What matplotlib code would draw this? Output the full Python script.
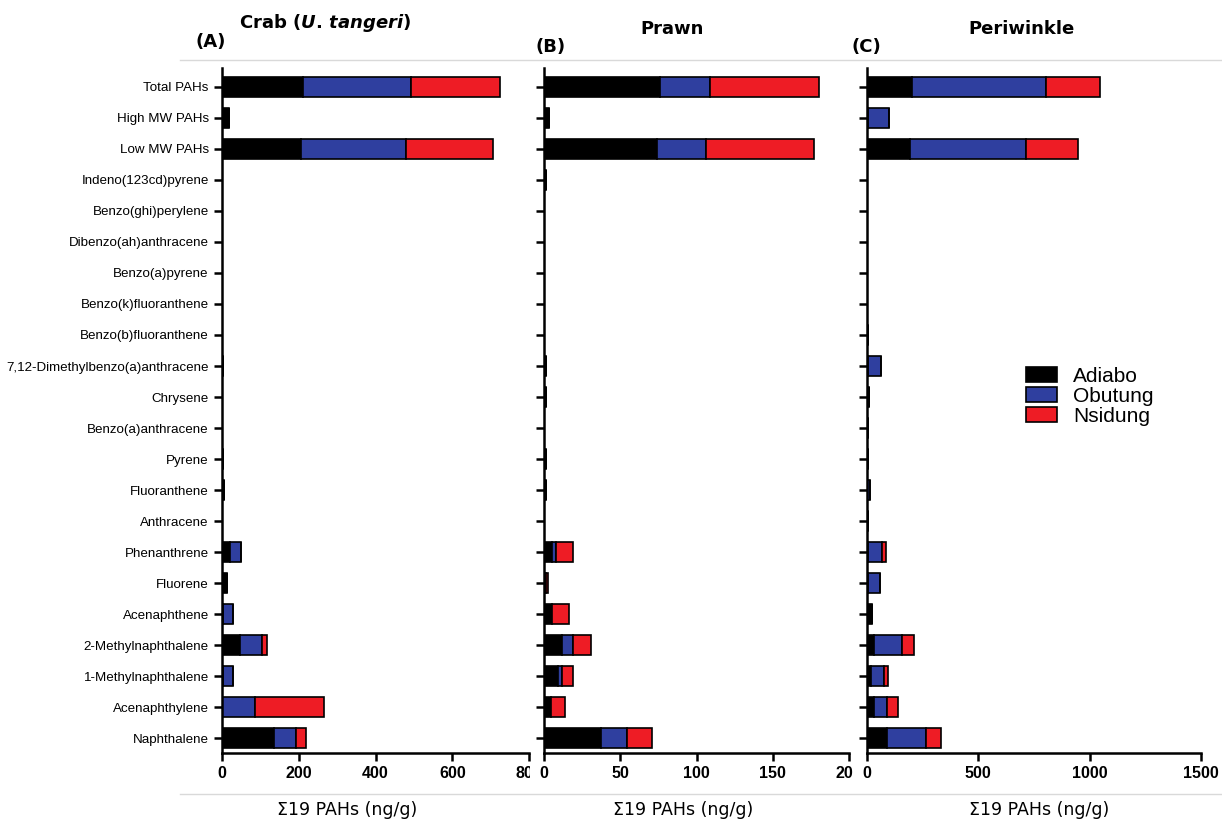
import matplotlib
matplotlib.use("Agg")
import matplotlib.pyplot as plt
from matplotlib.patches import Patch
from matplotlib.lines import Line2D
from matplotlib.transforms import Bbox, TransformedBbox

plt.rcParams["mathtext.fontset"] = "custom"
plt.rcParams["mathtext.it"] = "DejaVu Sans:bold:italic"
plt.rcParams["mathtext.rm"] = "DejaVu Sans:bold"

compounds = [
    "Total PAHs", "High MW PAHs", "Low MW PAHs", "Indeno(123cd)pyrene",
    "Benzo(ghi)perylene", "Dibenzo(ah)anthracene", "Benzo(a)pyrene",
    "Benzo(k)fluoranthene", "Benzo(b)fluoranthene",
    "7,12-Dimethylbenzo(a)anthracene", "Chrysene", "Benzo(a)anthracene",
    "Pyrene", "Fluoranthene", "Anthracene", "Phenanthrene", "Fluorene",
    "Acenaphthene", "2-Methylnaphthalene", "1-Methylnaphthalene",
    "Acenaphthylene", "Naphthalene",
]
sites = ["Adiabo", "Obutung", "Nsidung"]
site_colors = ["#000000", "#2f3f9f", "#ee1c25"]

# concentrations (ng/g), one list per site, same order as compounds
crab_adiabo = [210, 18, 205, 0.5, 0.5, 0.5, 0.5, 0.5, 0.5, 3, 1, 0.5, 3, 5, 1, 20, 13, 2, 47, 2, 0, 135]
crab_obutung = [283, 0, 275, 0, 0, 0, 0, 0, 0, 0, 0, 0, 0, 0, 0, 29, 0, 26, 56, 26, 86, 57]
crab_nsidung = [231, 0, 226, 0, 0, 0, 0, 0, 0, 0, 0, 0, 0, 0, 0, 0, 0, 0, 13, 0, 180, 28]

prawn_adiabo = [76, 3, 74, 1, 0.3, 0.3, 0.3, 0.3, 0.3, 1.5, 1, 0.3, 1, 1.5, 0.3, 5, 1, 5, 12, 9.5, 4.5, 37.5]
prawn_obutung = [33, 0, 32, 0, 0, 0, 0, 0, 0, 0, 0, 0, 0, 0, 0, 3, 0, 0, 7, 2.5, 0, 17]
prawn_nsidung = [71, 0, 71, 0, 0, 0, 0, 0, 0, 0, 0, 0, 0, 0, 0, 11, 1.5, 11.5, 12, 7, 9.5, 16.5]

peri_adiabo = [203, 5, 194, 0.5, 0.5, 0.5, 0.5, 0.5, 5, 3, 10, 3, 5, 2, 3, 5, 3, 22, 33, 18, 31, 90]
peri_obutung = [599, 95, 518, 0, 0, 0, 0, 0, 0, 60, 0, 0, 0, 12, 0, 63, 56, 0, 124, 59, 59, 176]
peri_nsidung = [243, 0, 234, 0, 0, 0, 0, 0, 0, 0, 0, 0, 0, 0, 0, 16, 0, 0, 54, 18, 50, 67]

crab_ticks = [0, 200, 400, 600, 800]
prawn_ticks = [0, 50, 100, 150, 200]
peri_ticks = [0, 500, 1000, 1500]

W, H = 1222, 823
fig = plt.figure(figsize=(W / 100, H / 100), dpi=100)

narrow = ["Liberation Sans Narrow", "Liberation Sans", "DejaVu Sans"]


def stacked_panel(rect, series, ticks, show_labels):
    ax = fig.add_axes(rect)
    ypos = list(range(len(compounds)))
    left = [0.0] * len(compounds)
    for vals, color in zip(series, site_colors):
        ax.barh(ypos, vals, left=left, height=0.66, color=color,
                edgecolor="black", linewidth=1.2, zorder=2)
        left = [l + v for l, v in zip(left, vals)]
    ax.set_ylim(21.48, -0.61)
    ax.set_xlim(ticks[0], ticks[-1])
    ax.set_xticks(ticks)
    ax.set_yticks(ypos)
    if show_labels:
        ax.set_yticklabels(compounds, family=narrow, fontsize=9.6)
    else:
        ax.set_yticklabels([])
    for lbl in ax.get_xticklabels():
        lbl.set_family(narrow)
        lbl.set_fontweight("bold")
        lbl.set_fontsize(11.5)
    for side in ["top", "right"]:
        ax.spines[side].set_visible(False)
    for side in ["left", "bottom"]:
        ax.spines[side].set_linewidth(1.8)
    ax.tick_params(axis="both", direction="out", length=6, width=1.8, pad=3.5)
    return ax


def px_rect(x0, x1, y0=68, y1=753):
    return [x0 / W, 1 - y1 / H, (x1 - x0) / W, (y1 - y0) / H]


ax_a = stacked_panel(px_rect(222, 529), [crab_adiabo, crab_obutung, crab_nsidung], crab_ticks, True)
ax_b = stacked_panel(px_rect(544, 849), [prawn_adiabo, prawn_obutung, prawn_nsidung], prawn_ticks, False)
ax_c = stacked_panel(px_rect(867, 1201), [peri_adiabo, peri_obutung, peri_nsidung], peri_ticks, False)

# panel headings
fig.text(325 / W, 1 - 23 / H, r"Crab ($\mathit{U.\,tangeri}$)", ha="center", va="center",
         fontsize=13, fontweight="bold")
fig.text(672 / W, 1 - 29 / H, "Prawn", ha="center", va="center", fontsize=13, fontweight="bold")
fig.text(1022 / W, 1 - 29 / H, "Periwinkle", ha="center", va="center", fontsize=13, fontweight="bold")
for x, y, tag in [(211, 42, "(A)"), (551, 47, "(B)"), (866, 47, "(C)")]:
    fig.text(x / W, 1 - y / H, tag, ha="center", va="center", fontsize=13, fontweight="bold")

for x in [347, 683, 1039]:
    fig.text(x / W, 1 - 810 / H, "\u03a319 PAHs (ng/g)", ha="center", va="center", fontsize=12.5)

# faint frame lines between the header / footer and the panels
for y in [60, 794]:
    fig.add_artist(Line2D([180 / W, 1], [1 - y / H] * 2, color="#d9d9d9", lw=1,
                          transform=fig.transFigure))

handles = [Patch(facecolor=c, edgecolor="black", linewidth=1.2) for c in site_colors]
fig.legend(handles, sites, loc="upper left", bbox_to_anchor=(1026 / W, 1 - 367 / H),
           frameon=False, prop={"family": ["Liberation Sans", "DejaVu Sans"], "size": 15},
           handlelength=1.5, handleheight=0.72, labelspacing=0.05, handletextpad=0.75,
           borderaxespad=0, borderpad=0)

# last tick labels of (A) and (B) run under the next panel
fig.canvas.draw()
for ax, right in [(ax_a, 530), (ax_b, 853)]:
    lbl = ax.get_xticklabels()[-1]
    lbl.set_clip_box(TransformedBbox(Bbox([[0, 0], [right / W, 1]]), fig.transFigure))
    lbl.set_clip_on(True)

fig.savefig("out.png", dpi=100)
